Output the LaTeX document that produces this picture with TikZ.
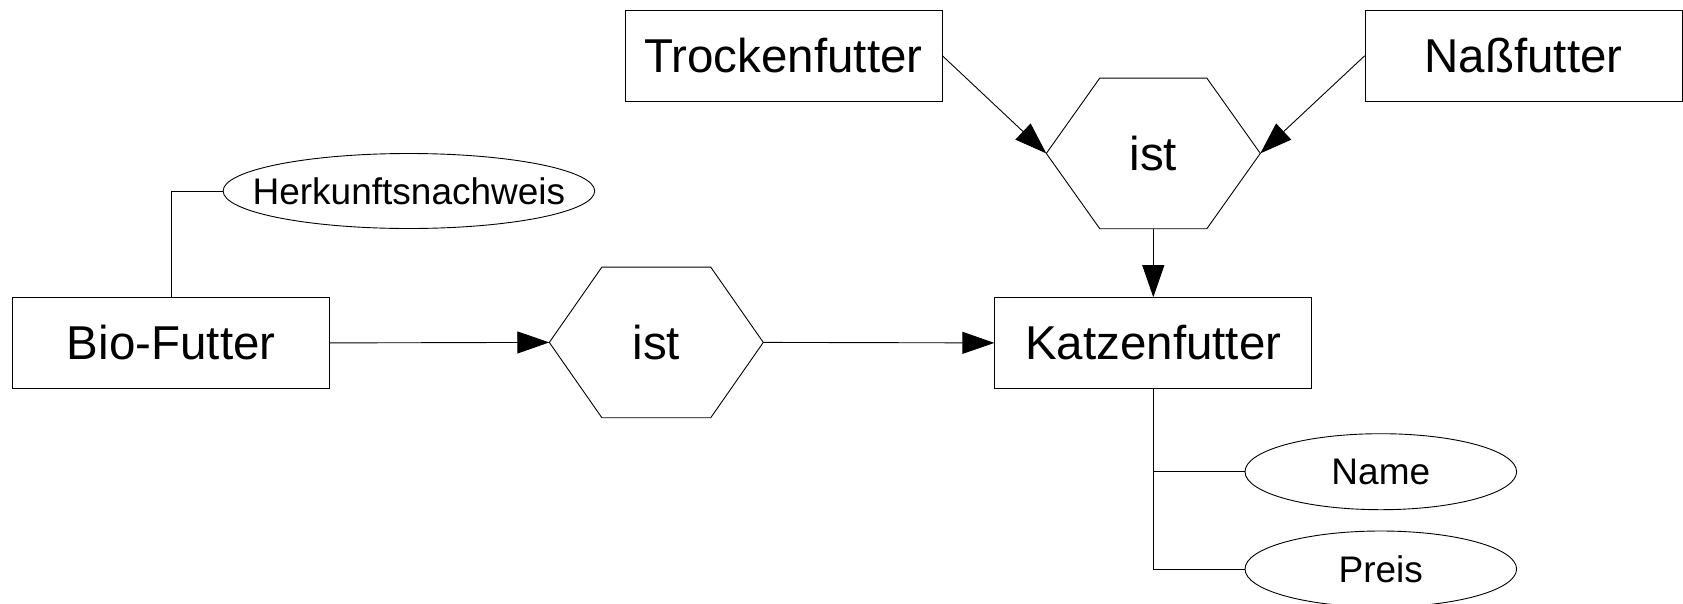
\documentclass[tikz,border=0pt]{standalone}
\usepackage{fontspec}
\setmainfont{Liberation Sans}
\usetikzlibrary{arrows.meta,shapes.geometric}

\tikzset{
  entity/.style={draw, line width=0.9pt, rectangle, minimum width=317pt, minimum height=90.5pt,
                 inner sep=0pt, font=\fontsize{47.5}{56}\selectfont},
  attr/.style={draw, line width=0.9pt, ellipse, inner sep=0pt},
  attrtext/.style={inner sep=0pt, font=\fontsize{37}{44}\selectfont},
  relbox/.style={rectangle, minimum width=213.6pt, minimum height=150.3pt, inner sep=0pt,
                 font=\fontsize{47.5}{56}\selectfont},
  hexline/.style={line width=0.9pt},
  link/.style={line width=0.9pt},
  isa/.style={line width=0.9pt, -{Triangle[length=32pt, width=22pt]}},
}

% hexagonal relationship outline around a node
\newcommand{\hexagon}[2]{%
  \draw[hexline] (#1.west) -- ([xshift=#2]#1.north west) -- ([xshift=-#2]#1.north east)
    -- (#1.east) -- ([xshift=-#2]#1.south east) -- ([xshift=#2]#1.south west) -- cycle;}

\begin{document}
\begin{tikzpicture}[x=1pt, y=-1pt]
  \useasboundingbox (0,0) rectangle (1683,603);

  % entities
  \node[entity] (bio)   at (171.2, 342.9) {Bio-Futter};
  \node[entity] (katz)  at (1153.3, 342.9) {Katzenfutter};
  \node[entity] (trock) at (783.5, 55.8) {Trockenfutter};
  \node[entity] (nass)  at (1523.6, 55.8) {Naßfutter};

  % attributes (ellipse size fixed, text placed at the centre)
  \node[attr, minimum width=371.6pt, minimum height=75pt,
        label={[attrtext]center:Herkunftsnachweis}] (herk) at (408.9, 191) {};
  \node[attr, minimum width=271.6pt, minimum height=76pt,
        label={[attrtext]center:Name}] (name) at (1380.8, 471.7) {};
  \node[attr, minimum width=271.6pt, minimum height=76pt,
        label={[attrtext]center:Preis}] (preis) at (1380.8, 569) {};

  % is-a relationships
  \node[relbox] (ist1) at (656.3, 342.4) {ist};
  \hexagon{ist1}{52.6pt}
  \node[relbox] (ist2) at (1153.3, 153.4) {ist};
  \hexagon{ist2}{53.5pt}

  % connectors
  \draw[isa] (bio.east) -- (ist1.west);
  \draw[isa] (ist1.east) -- (katz.west);
  \draw[isa] (trock.east) -- (ist2.west);
  \draw[isa] (nass.west) -- (ist2.east);
  \draw[isa] (ist2.south) -- (katz.north);

  \draw[link] (bio.north) |- (herk.west);
  \draw[link] (katz.south) |- (name.west);
  \draw[link] (katz.south) |- (preis.west);
\end{tikzpicture}
\end{document}
